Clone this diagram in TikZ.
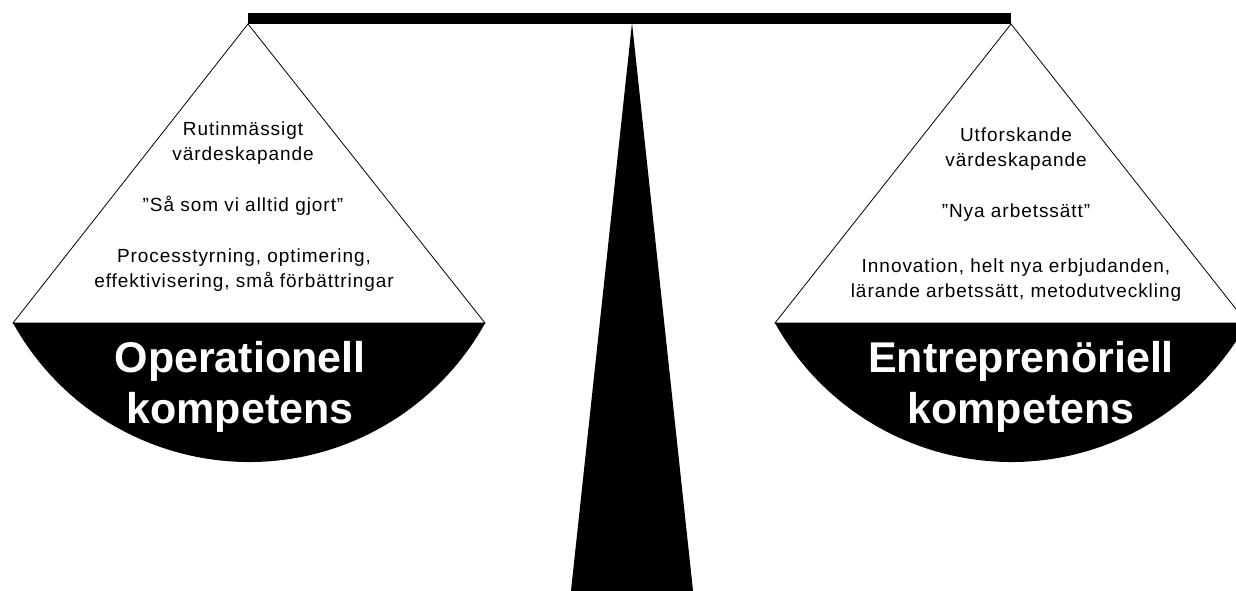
\documentclass[tikz,border=0pt]{standalone}
\usepackage{fontspec}
\setmainfont{Liberation Sans}
\newfontfamily\panfont[LetterSpace=5]{Liberation Sans}
\usetikzlibrary{positioning, calc}

\begin{document}
\begin{tikzpicture}[x=1pt, y=1pt,
		pantext/.style={align=center, inner sep=0pt, anchor=base, font=\panfont\fontsize{19}{25}\selectfont},
		panname/.style={align=center, inner sep=0pt, anchor=base, text=white, font=\bfseries\fontsize{43}{51}\selectfont},
		panline/.style={line width=0.8pt},
	]
		\useasboundingbox (0,0) rectangle (1236,590);
		\clip (0,0) rectangle (1236,590);

		% beam and stand
		\coordinate (L) at (248,566);
		\coordinate (R) at (1011,566);
		\coordinate (T) at (632,567);
		\fill (L) rectangle ($(R)+(0,11)$);
		\fill (T) -- (694,-10) -- (570,-10) -- cycle;

		% left pan
		\coordinate (L1) at (13,267);
		\coordinate (L2) at (485,267);
		\fill (L1) arc[start angle=209.03, end angle=330.97, radius=270] -- cycle;
		\draw[panline] (L1) -- (L) -- (L2) -- cycle;

		% right pan
		\coordinate (R1) at (775,267);
		\coordinate (R2) at (1247,267);
		\fill (R1) arc[start angle=209.03, end angle=330.97, radius=270] -- cycle;
		\draw[panline] (R1) -- (R) -- (R2) -- cycle;

		% texts (base = last line)
		\node[pantext] (lhead) at (243,429) {Rutinmässigt\\värdeskapande};
		\node[pantext] (lquote) at (243,378) {”Så som vi alltid gjort”};
		\node[pantext] (llist) at (244,303) {Processtyrning, optimering,\\effektivisering, små förbättringar};
		\node[panname] (lname) at (240,167) {Operationell\\kompetens};

		\node[pantext] (rhead) at (1016,423) {Utforskande\\värdeskapande};
		\node[pantext] (rquote) at (1016,373) {”Nya arbetssätt”};
		\node[pantext] (rlist) at (1016,293) {Innovation, helt nya erbjudanden,\\lärande arbetssätt, metodutveckling};
		\node[panname] (rname) at (1021,167) {Entreprenöriell\\kompetens};
	\end{tikzpicture}
\end{document}
